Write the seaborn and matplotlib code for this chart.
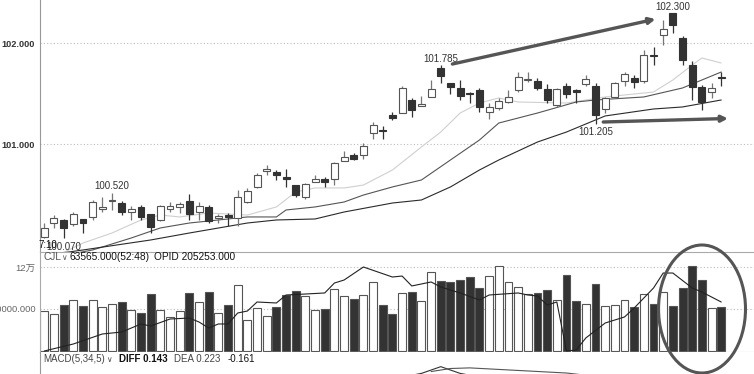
import numpy as np
import pandas as pd
import seaborn as sns
import matplotlib.pyplot as plt
from matplotlib.patches import Ellipse

sns.set_style('white')
plt.rcParams['font.family'] = ['Liberation Sans', 'DejaVu Sans', 'Noto Sans CJK SC']

# daily candles
opens = [100.080, 100.218, 100.251, 100.211, 100.261, 100.278, 100.357, 100.439, 100.422, 100.327,
         100.383, 100.307, 100.251, 100.357, 100.377, 100.439, 100.327, 100.383, 100.268, 100.300,
         100.268, 100.432, 100.581, 100.736, 100.723, 100.680, 100.597, 100.482, 100.630, 100.657,
         100.657, 100.835, 100.894, 100.894, 101.109, 101.135, 101.290, 101.313, 101.439, 101.380,
         101.472, 101.753, 101.610, 101.555, 101.511, 101.538, 101.320, 101.357, 101.416, 101.538,
         101.637, 101.630, 101.545, 101.389, 101.578, 101.538, 101.597, 101.578, 101.347, 101.472,
         101.630, 101.654, 101.627, 101.878, 102.082, 102.297, 102.050, 101.785, 101.565, 101.515,
         101.662]
closes = [100.171, 100.268, 100.169, 100.307, 100.218, 100.426, 100.383, 100.442, 100.333, 100.360,
          100.284, 100.179, 100.393, 100.390, 100.409, 100.310, 100.393, 100.241, 100.294, 100.278,
          100.482, 100.538, 100.696, 100.759, 100.696, 100.657, 100.498, 100.604, 100.657, 100.630,
          100.812, 100.872, 100.855, 100.987, 101.191, 101.132, 101.264, 101.555, 101.340, 101.396,
          101.545, 101.677, 101.571, 101.479, 101.495, 101.373, 101.367, 101.429, 101.466, 101.664,
          101.650, 101.561, 101.439, 101.545, 101.498, 101.521, 101.647, 101.290, 101.456, 101.610,
          101.696, 101.620, 101.884, 101.875, 102.139, 102.181, 101.835, 101.571, 101.422, 101.561,
          101.659]
highs = [100.221, 100.300, 100.261, 100.333, 100.265, 100.449, 100.482, 100.520, 100.439, 100.390,
         100.399, 100.310, 100.399, 100.432, 100.432, 100.505, 100.432, 100.399, 100.307, 100.317,
         100.548, 100.565, 100.719, 100.795, 100.746, 100.753, 100.600, 100.614, 100.696, 100.680,
         100.828, 100.934, 100.911, 101.010, 101.218, 101.182, 101.323, 101.578, 101.456, 101.479,
         101.637, 101.785, 101.612, 101.637, 101.515, 101.555, 101.406, 101.456, 101.538, 101.713,
         101.713, 101.654, 101.597, 101.555, 101.604, 101.545, 101.686, 101.604, 101.472, 101.620,
         101.719, 101.686, 101.934, 101.967, 102.231, 102.300, 102.073, 101.825, 101.587, 101.604,
         101.719]
lows = [100.075, 100.169, 100.070, 100.192, 100.119, 100.251, 100.327, 100.350, 100.300, 100.251,
        100.251, 100.119, 100.241, 100.333, 100.317, 100.251, 100.251, 100.218, 100.218, 100.192,
        100.192, 100.416, 100.565, 100.696, 100.647, 100.581, 100.482, 100.456, 100.625, 100.581,
        100.597, 100.835, 100.845, 100.852, 101.050, 101.050, 101.241, 101.313, 101.274, 101.380,
        101.472, 101.610, 101.495, 101.439, 101.406, 101.323, 101.248, 101.340, 101.406, 101.521,
        101.620, 101.538, 101.406, 101.373, 101.456, 101.412, 101.578, 101.205, 101.307, 101.462,
        101.578, 101.555, 101.604, 101.785, 101.983, 102.105, 101.785, 101.439, 101.340, 101.456,
        101.578]
volumes = [57100, 52400, 65700, 72900, 64300, 72900, 63300, 66700, 70000, 58100,
           54700, 81400, 58600, 48600, 56700, 82400, 69600, 84300, 53900, 66100,
           93900, 44300, 61400, 50000, 62400, 80400, 85700, 79000, 58100, 59600,
           88600, 78100, 74700, 80000, 98600, 65700, 52400, 82400, 84700, 71900,
           112400, 100000, 99000, 101000, 105300, 89600, 106700, 121000, 98100, 91000,
           81000, 82400, 87600, 72400, 108600, 71900, 66700, 95300, 63900, 65300,
           72400, 63300, 81000, 67100, 84700, 64300, 89600, 121000, 101400, 61000,
           62900]

# moving average lines (read at a few candles)
ma_light_idx = [2, 4, 7, 10, 12, 14, 17, 21, 24, 26, 28, 31, 33, 36, 39, 41, 43, 45, 47, 49, 54, 58, 63, 65, 67, 68, 70]
ma_light_val = [99.930, 100.023, 100.122, 100.251, 100.300, 100.281, 100.320, 100.300, 100.380, 100.528,
                100.568, 100.568, 100.597, 100.746, 100.974, 101.122, 101.310, 101.409, 101.459, 101.419,
                101.409, 101.469, 101.518, 101.637, 101.785, 101.855, 101.805]
ma_mid_idx = [2, 5, 9, 12, 15, 18, 21, 24, 25, 28, 31, 33, 36, 39, 42, 45, 47, 51, 55, 57, 62, 66, 70]
ma_mid_val = [99.900, 99.954, 100.073, 100.172, 100.221, 100.251, 100.281, 100.281, 100.350, 100.380,
              100.429, 100.498, 100.578, 100.647, 100.845, 101.043, 101.211, 101.310, 101.419, 101.439,
              101.469, 101.558, 101.716]
ma_dark_idx = [0, 4, 11, 15, 21, 24, 28, 31, 36, 39, 42, 45, 47, 51, 54, 58, 63, 66, 70]
ma_dark_val = [99.900, 99.954, 100.053, 100.122, 100.221, 100.251, 100.261, 100.330, 100.419, 100.449,
               100.578, 100.746, 100.845, 101.023, 101.122, 101.281, 101.350, 101.370, 101.439]

# OPID line in the volume pane
opid_idx = [0, 3, 6, 8, 10, 11, 13, 15, 16, 17, 18, 19, 20, 21, 22, 24, 25, 27, 29, 30, 31, 33, 36, 37,
            38, 40, 41, 43, 45, 46, 49, 50, 51, 52, 53, 54, 55, 56, 58, 60, 61, 63, 64, 65, 67, 68, 70]
opid_val = [0, 10000, 24300, 27100, 38600, 35700, 45700, 47100, 41400, 32900, 38600, 38600, 54300, 57100,
            70000, 68600, 80000, 81400, 82900, 97100, 101400, 120000, 105700, 107100, 92900, 98600, 91400,
            82900, 72900, 80000, 82900, 80000, 78600, 65700, 70000, 0, 1400, 18600, 40000, 48600, 61400,
            90000, 111400, 111400, 90000, 84300, 70000]

# MACD pane (only the tops of the lines show)
diff_idx = [38, 39, 41, 43, 44]
diff_val = [0.37, 0.385, 0.44, 0.385, 0.37]
dea_idx = [40, 42, 44, 54, 56]
dea_val = [0.40, 0.425, 0.43, 0.388, 0.37]

marked_highs = [7, 41, 65]
marked_lows = [2, 57]

df = pd.DataFrame({'open': opens, 'high': highs, 'low': lows, 'close': closes, 'vol': volumes})
df['idx'] = np.arange(len(df))
df['dir'] = np.where(df['close'] >= df['open'], 'up', 'down')

fig = plt.figure(figsize=(7.54, 3.74), dpi=100)
L, W = 40 / 754, 714 / 754
ax = fig.add_axes([L, 1 - 252 / 374, W, 252 / 374])
axv = fig.add_axes([L, 1 - 352 / 374, W, 100 / 374])
axm = fig.add_axes([L, 0, W, 22 / 374])

xlim = (-0.445, 73.39)

# candles
up = df['dir'] == 'up'
ax.vlines(df['idx'][up], df['low'][up], df['high'][up], color='#777777', lw=0.9, zorder=2)
ax.vlines(df['idx'][~up], df['low'][~up], df['high'][~up], color='#333333', lw=0.9, zorder=2)
body_h = np.maximum((df['close'] - df['open']).abs(), 0.012)
body_b = np.minimum(df['close'], df['open'])
ax.bar(df['idx'][up], body_h[up], bottom=body_b[up], width=0.72, color='white',
       edgecolor='#555555', linewidth=0.8, zorder=3)
ax.bar(df['idx'][~up], body_h[~up], bottom=body_b[~up], width=0.72, color='#333333',
       edgecolor='#333333', linewidth=0.8, zorder=3)

sns.lineplot(x=ma_light_idx, y=ma_light_val, ax=ax, color='#cfcfcf', lw=0.8, zorder=1)
sns.lineplot(x=ma_mid_idx, y=ma_mid_val, ax=ax, color='#555555', lw=0.8, zorder=1)
sns.lineplot(x=ma_dark_idx, y=ma_dark_val, ax=ax, color='#2a2a2a', lw=0.8, zorder=1)

for i in marked_highs:
    ax.annotate(f'{highs[i]:.3f}', xy=(i, highs[i]), xytext=(0, 1), textcoords='offset points',
                ha='center', va='bottom', fontsize=7, color='#333333')
for i in marked_lows:
    ax.annotate(f'{lows[i]:.3f}', xy=(i, lows[i]), xytext=(0, -2.5), textcoords='offset points',
                ha='center', va='top', fontsize=7, color='#333333')

ax.annotate('', xy=(63.2, 102.24), xytext=(42.2, 101.795),
            arrowprops=dict(arrowstyle='-|>', color='#555555', lw=2.4, mutation_scale=9,
                            shrinkA=0, shrinkB=0))
ax.annotate('', xy=(70.7, 101.256), xytext=(57.8, 101.221),
            arrowprops=dict(arrowstyle='-|>', color='#555555', lw=2.4, mutation_scale=9,
                            shrinkA=0, shrinkB=0))

for lvl in (101, 102):
    ax.axhline(lvl, color='#bbbbbb', ls=(0, (1, 2)), lw=0.8, zorder=0)
ax.set_xlim(*xlim)
ax.set_ylim(99.934, 102.429)
ax.set_xticks([])
ax.set_yticks([101, 102])
ax.set_yticklabels(['101.000', '102.000'], fontweight='bold')
ax.tick_params(axis='y', length=0, pad=4, labelsize=6.6, labelcolor='#333333')
ax.set_xlabel('')
ax.set_ylabel('')
for s in ('top', 'right', 'bottom'):
    ax.spines[s].set_visible(False)
ax.spines['left'].set_color('#999999')

# volume
sns.barplot(data=df, x='idx', y='vol', hue='dir', palette={'up': 'white', 'down': '#333333'},
            dodge=False, native_scale=True, width=0.82, edgecolor='#555555', linewidth=0.8,
            legend=False, ax=axv, zorder=2)
sns.lineplot(x=opid_idx, y=opid_val, ax=axv, color='#222222', lw=0.8, zorder=3)
for lvl in (60000, 120000):
    axv.axhline(lvl, color='#bbbbbb', ls=(0, (1, 2)), lw=0.8, zorder=0)
axv.set_xlim(*xlim)
axv.set_ylim(-1430, 141430)
axv.set_xticks([])
axv.set_yticks([60000, 120000])
axv.set_yticklabels(['60000.000', '12万'])
axv.tick_params(axis='y', length=0, pad=3, labelsize=6.8, labelcolor='#666666')
axv.set_xlabel('')
axv.set_ylabel('')
axv.spines['right'].set_visible(False)
for s in ('left', 'top', 'bottom'):
    axv.spines[s].set_color('#aaaaaa')

# macd
sns.lineplot(x=diff_idx, y=diff_val, ax=axm, color='#333333', lw=0.8)
sns.lineplot(x=dea_idx, y=dea_val, ax=axm, color='#555555', lw=0.8)
axm.set_xlim(*xlim)
axm.set_ylim(0.38, 0.56)
axm.set_xticks([])
axm.set_yticks([])
axm.set_xlabel('')
axm.set_ylabel('')
for s in ('top', 'right', 'bottom'):
    axm.spines[s].set_visible(False)
axm.spines['left'].set_color('#999999')


def ftext(x, y, s, **kw):
    fig.text(x / 754, 1 - y / 374, s, va='center', ha='left', **kw)


ftext(38, 245, '7:10', fontsize=7, color='#111111')
ftext(43, 257.5, 'CJL', fontsize=7.3, color='#555555')
ftext(61, 258, '∨', fontsize=5.5, color='#555555')
ftext(69, 257.5, '63565.000(52:48)', fontsize=7.3, color='#111111')
ftext(154, 257.5, 'OPID 205253.000', fontsize=7.3, color='#111111')
ftext(43, 359.5, 'MACD(5,34,5)', fontsize=7, color='#444444')
ftext(106, 360, '∨', fontsize=5.5, color='#444444')
ftext(119, 359.5, 'DIFF 0.143', fontsize=7, color='#111111', fontweight='bold')
ftext(174, 359.5, 'DEA 0.223', fontsize=7, color='#444444')
ftext(228, 359.5, '-0.161', fontsize=7, color='#111111')

fig.add_artist(Ellipse((702 / 754, 1 - 309 / 374), 87 / 754, 128 / 374, angle=0,
                       fill=False, edgecolor='#555555', lw=2.2, transform=fig.transFigure))

fig.savefig('out.png', dpi=100)
